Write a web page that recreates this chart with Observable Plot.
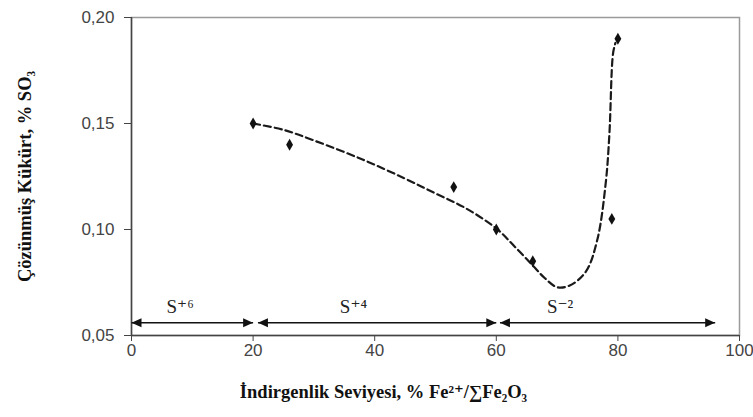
<!DOCTYPE html>
<html>
<head>
<meta charset="utf-8">
<script src="https://cdn.jsdelivr.net/npm/d3@7"></script>
<script src="https://cdn.jsdelivr.net/npm/@observablehq/plot@0.6"></script>
<style>
  html, body { margin: 0; padding: 0; background: #fff; }
</style>
</head>
<body>
<div id="chart"></div>
<script>
// Measured points
const reduction = [20, 26, 53, 60, 66, 79, 80];
const sulfur = [0.150, 0.140, 0.120, 0.100, 0.085, 0.105, 0.190];

// Dashed trend curve
const trendX = [20, 25, 30, 38, 45, 50, 55, 60, 63, 66, 68, 70, 72, 74.7, 76.6, 78, 78.6, 79.2, 79.6];
const trendY = [0.150, 0.147, 0.142, 0.133, 0.124, 0.117, 0.110, 0.1005, 0.092, 0.083, 0.077, 0.0728, 0.0735, 0.080, 0.095, 0.122, 0.145, 0.183, 0.188];

// Regions (double arrows) and their labels
const regionStart = [0, 20.8, 60.6];
const regionEnd = [20, 60, 96];
const regionLevel = 0.056;
const regionLabels = ["S\u207A\u2076", "S\u207A\u2074", "S\u207B\u00B2"];
const regionLabelX = [8, 36.5, 70.5];
const regionLabelY = 0.0635;

const xTicks = [0, 20, 40, 60, 80, 100];
const yTicks = [0.05, 0.10, 0.15, 0.20];

const xTitle = "\u0130ndirgenlik Seviyesi, % Fe\u00B2\u207A/\u2211Fe\u2082O\u2083";
const yTitle = "\u00C7\u00F6z\u00FCnm\u00FC\u015F K\u00FCk\u00FCrt, % SO\u2083";

const points = reduction.map((x, i) => ({x, y: sulfur[i]}));
const trend = trendX.map((x, i) => ({x, y: trendY[i]}));
const regions = regionStart.map((s, i) => ({x1: s, x2: regionEnd[i], y: regionLevel}));
const labels = regionLabels.map((t, i) => ({t, x: regionLabelX[i], y: regionLabelY}));

function triangleMarker(color) {
  const m = d3.create("svg:marker")
    .attr("viewBox", "-10 -5 10 10")
    .attr("markerWidth", 10)
    .attr("markerHeight", 10)
    .attr("markerUnits", "userSpaceOnUse")
    .attr("refX", 0)
    .attr("refY", 0)
    .attr("orient", "auto-start-reverse");
  m.append("path").attr("d", "M-10,-4.5L0,0L-10,4.5Z").attr("fill", color).attr("stroke", "none");
  return m.node();
}

const serif = "'Liberation Serif', 'DejaVu Serif', serif";
const sans = "'Liberation Sans', Arial, sans-serif";

const chart = Plot.plot({
  width: 753,
  height: 417,
  marginLeft: 131,
  marginRight: 14,
  marginTop: 17,
  marginBottom: 82,
  style: {background: "#fff", fontFamily: sans},
  x: {domain: [0, 100]},
  y: {domain: [0.05, 0.20]},
  marks: [
    Plot.frame({stroke: "#9a9a9a", strokeWidth: 1.5}),
    Plot.ruleX([0], {stroke: "#444", strokeWidth: 1.5}),
    Plot.ruleY([0.05], {stroke: "#444", strokeWidth: 1.5}),
    Plot.axisY({ticks: yTicks, tickSize: 7, tickPadding: 10, fontSize: 17, fill: "#444", stroke: "#444",
      tickFormat: d => d.toFixed(2).replace(".", ","), label: null}),
    Plot.axisX({ticks: xTicks, tickSize: 6, tickPadding: 2, fontSize: 17, fill: "#444", stroke: "#444",
      tickFormat: d => String(d), label: null}),
    Plot.line(trend, {x: "x", y: "y", curve: "catmull-rom", stroke: "#1a1a1a", strokeWidth: 2.2, strokeDasharray: "7,4"}),
    Plot.dot(points, {x: "x", y: "y", symbol: "diamond", r: 3.6, fill: "#111", stroke: "none"}),
    Plot.link(regions, {x1: "x1", x2: "x2", y1: "y", y2: "y", stroke: "#111", strokeWidth: 1.5,
      markerStart: triangleMarker, markerEnd: triangleMarker}),
    Plot.text(labels, {x: "x", y: "y", text: "t", fontFamily: serif, fontSize: 19, fill: "#222"}),
    Plot.text([xTitle], {frameAnchor: "bottom", textAnchor: "middle", lineAnchor: "bottom", dy: 62, dx: -52,
      text: d => d, fontFamily: serif, fontWeight: "bold", fontSize: 18.5, fill: "#111"}),
    Plot.text([yTitle], {frameAnchor: "left", textAnchor: "middle", lineAnchor: "middle", dx: -106, rotate: -90,
      text: d => d, fontFamily: serif, fontWeight: "bold", fontSize: 18.5, fill: "#111"})
  ]
});
document.getElementById("chart").appendChild(chart);
</script>
</body>
</html>
